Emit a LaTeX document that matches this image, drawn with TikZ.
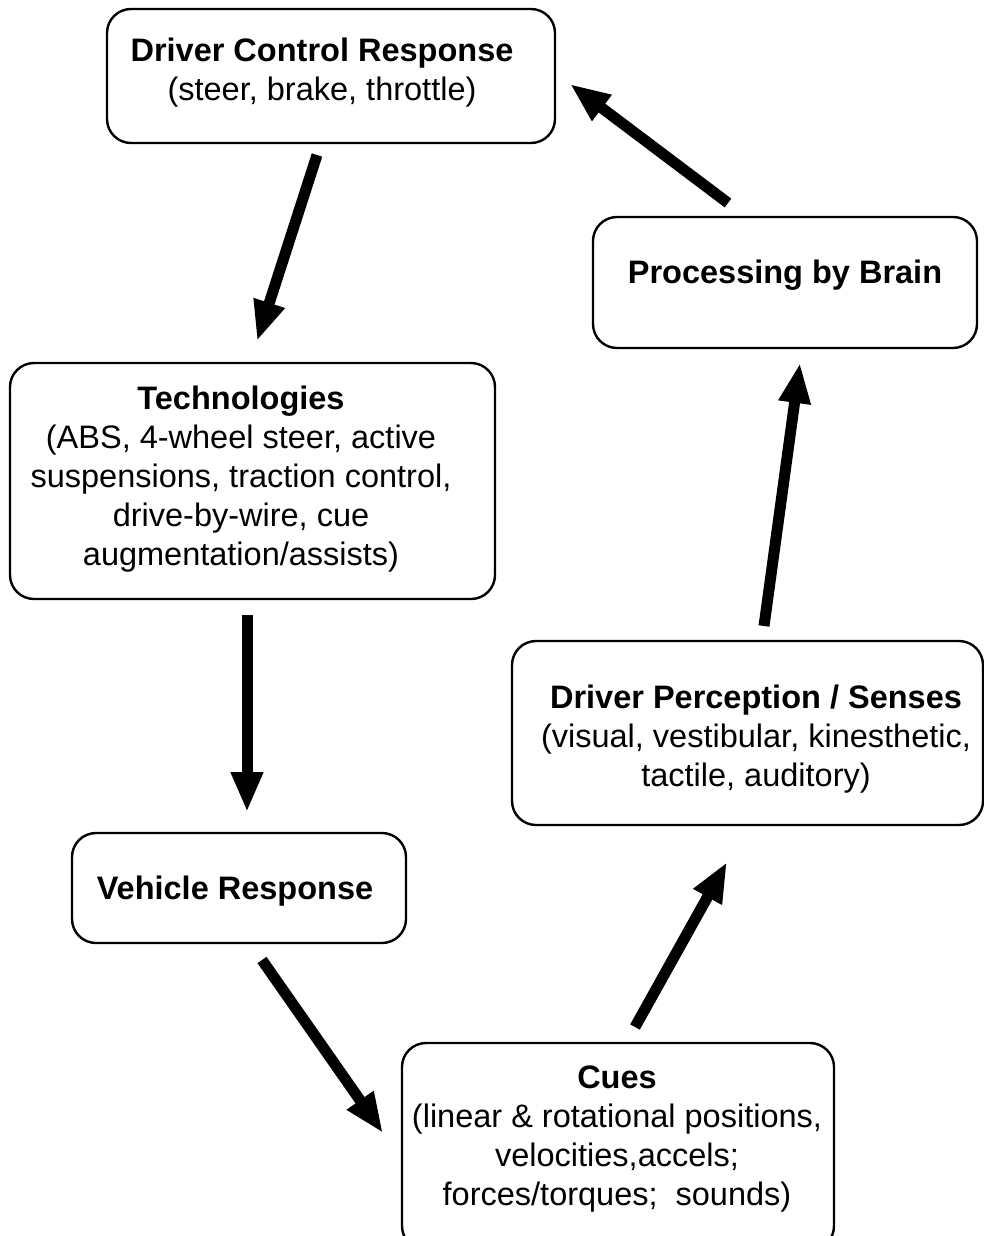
\documentclass[tikz,border=0pt]{standalone}
\usepackage{fontspec}
\setmainfont{Liberation Sans}
\usetikzlibrary{arrows.meta}
\begin{document}
\begin{tikzpicture}[x=1pt,y=-1pt,
  box/.style={draw, line width=2.4pt, rounded corners=24pt, inner sep=0pt},
  txt/.style={align=center, inner sep=0pt, font=\fontsize{32.5}{39}\selectfont},
  flow/.style={line width=11pt, -{Triangle[length=40pt,width=30pt]}}]
\useasboundingbox (0,0) rectangle (984,1236);
\fill[white] (0,0) rectangle (984,1236);
\clip (0,0) rectangle (984,1236);
% boxes
\node[box, minimum width=448pt, minimum height=134pt] (dcr) at (331,76) {};
\node[box, minimum width=384pt, minimum height=131pt] (brain) at (785,282.5) {};
\node[box, minimum width=485pt, minimum height=236pt] (tech) at (252.5,481) {};
\node[box, minimum width=471pt, minimum height=184pt] (perc) at (747.5,733) {};
\node[box, minimum width=334pt, minimum height=110pt] (veh) at (239,888) {};
\node[box, minimum width=432pt, minimum height=207pt] (cues) at (618,1146.5) {};
% texts
\node[txt] (dcrt) at (322,72.5) {\textbf{Driver Control Response}\\(steer, brake, throttle)};
\node[txt] (braint) at (785,275) {\textbf{Processing by Brain}};
\node[txt] (techt) at (241,479) {\textbf{Technologies}\\(ABS, 4-wheel steer, active\\suspensions, traction control,\\drive-by-wire, cue\\augmentation/assists)};
\node[txt] (perct) at (756,739) {\textbf{Driver Perception / Senses}\\(visual, vestibular, kinesthetic,\\tactile, auditory)};
\node[txt] (veht) at (235,891) {\textbf{Vehicle Response}};
\node[txt] (cuest) at (617,1139) {\textbf{Cues}\\(linear \& rotational positions,\\velocities,accels;\\forces/torques;\ \ sounds)};
% arrow end points
\coordinate (a1s) at (317,155);  \coordinate (a1e) at (257,341);
\coordinate (a2s) at (247,615);  \coordinate (a2e) at (247,812);
\coordinate (a3s) at (262,960);  \coordinate (a3e) at (383,1133);
\coordinate (a4s) at (635,1027); \coordinate (a4e) at (727,862);
\coordinate (a5s) at (764,626);  \coordinate (a5e) at (800,363);
\coordinate (a6s) at (728,203);  \coordinate (a6e) at (570,84);
\draw[flow] (a1s) -- (a1e);
\draw[flow] (a2s) -- (a2e);
\draw[flow] (a3s) -- (a3e);
\draw[flow] (a4s) -- (a4e);
\draw[flow] (a5s) -- (a5e);
\draw[flow] (a6s) -- (a6e);
\end{tikzpicture}
\end{document}
